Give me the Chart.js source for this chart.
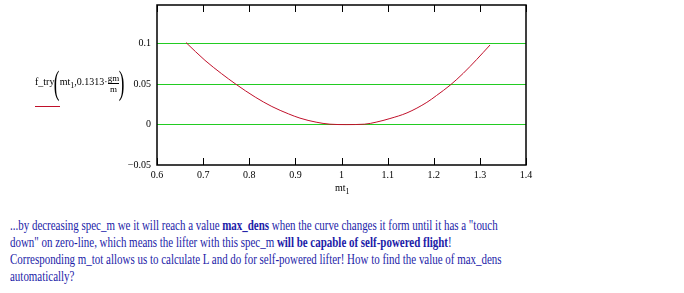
<!DOCTYPE html>
<html>
<head>
<meta charset="utf-8">
<script src="https://cdn.jsdelivr.net/npm/chart.js@4"></script>
<style>
  body { margin: 0; background: #fff; width: 684px; height: 293px; overflow: hidden; position: relative; font-family: "Liberation Serif", serif; }
  #wrap { position: absolute; left: 0; top: 0; width: 684px; height: 200px; }
  .lbl { position: absolute; font-size: 10px; color: #000; white-space: nowrap; }
  .frac { display: inline-block; vertical-align: middle; text-align: center; font-size: 9px; line-height: 10px; }
  .frac span { display: block; }
  .frac .num { border-bottom: 1px solid #000; }
  .paren { font-size: 34px; font-weight: 100; vertical-align: middle; transform: scaleX(0.5); display: inline-block; line-height: 34px; margin: 0 -3px; }
  #note { position: absolute; left: 10px; top: 217px; color: #1c1ca8; font-size: 15px; line-height: 17px; white-space: nowrap; transform: scaleX(0.73); transform-origin: 0 0; }
  #note b { color: #1c1ca8; }
</style>
</head>
<body>
<div id="wrap"><canvas id="c" width="684" height="200"></canvas></div>

<div class="lbl" style="left:35px; top:66px;">f_try<span class="paren">(</span>mt<sub style="font-size:8px">1</sub>,0.1313&middot;<span class="frac"><span class="num">gm</span><span>m</span></span><span class="paren">)</span></div>
<div style="position:absolute; left:35px; top:106px; width:25px; height:1px; background:#c0102a;"></div>

<div class="lbl" style="left:335px; top:182px;">mt<sub style="font-size:8px">1</sub></div>

<div id="note">...by decreasing spec_m we it will reach a value <b>max_dens</b> when the curve changes it form until it has a "touch<br>down" on zero-line, which means the lifter with this spec_m <b>will be capable of self-powered flight</b>!<br>Corresponding m_tot allows us to calculate L and do for self-powered lifter! How to find the value of max_dens<br>automatically?</div>

<script>
// curve
const mtValues = [0.663, 0.704, 0.740, 0.771, 0.813, 0.849, 0.885, 0.91, 0.945, 0.975, 1.01, 1.05, 1.075, 1.105, 1.142, 1.185, 1.206, 1.236, 1.264, 1.293, 1.322];
const fValues = [0.1015, 0.0795, 0.063, 0.05, 0.034, 0.0224, 0.0133, 0.008, 0.003, 0.0005, 0.0, 0.0005, 0.003, 0.0075, 0.0145, 0.0275, 0.036, 0.049, 0.0635, 0.0805, 0.0985];

const xTicks = [0.6, 0.7, 0.8, 0.9, 1, 1.1, 1.2, 1.3, 1.4];
const yTicks = [-0.05, 0, 0.05, 0.1];

const points = mtValues.map(function (m, i) { return {x: m, y: fValues[i]}; });

// frame + inward ticks like mathcad
const frame = {
    id: 'frame',
    afterDraw(chart) {
        const {ctx, chartArea: a} = chart;
        const xs = chart.scales.x;
        ctx.save();
        ctx.strokeStyle = '#000';
        ctx.lineWidth = 1.5;
        ctx.strokeRect(a.left, a.top, a.right - a.left, a.bottom - a.top);
        ctx.lineWidth = 1;
        xTicks.forEach(function (v) {
            const px = Math.round(xs.getPixelForValue(v)) + 0.5;
            ctx.beginPath();
            ctx.moveTo(px, a.bottom);
            ctx.lineTo(px, a.bottom - 7);
            ctx.moveTo(px, a.top);
            ctx.lineTo(px, a.top + 7);
            ctx.stroke();
        });
        ctx.restore();
    }
};

new Chart(document.getElementById('c'), {
    type: 'scatter',
    data: {
        datasets: [{
            data: points,
            showLine: true,
            borderColor: '#c0102a',
            borderWidth: 1,
            pointRadius: 0,
            cubicInterpolationMode: 'monotone',
            fill: false
        }]
    },
    options: {
        responsive: false,
        animation: false,
        layout: {padding: {left: 0, right: 158, top: 5, bottom: 0}},
        plugins: {legend: {display: false}, tooltip: {enabled: false}},
        scales: {
            x: {
                type: 'linear',
                min: 0.6,
                max: 1.4,
                afterBuildTicks: function (s) { s.ticks = xTicks.map(function (v) { return {value: v}; }); },
                afterFit: function (s) { s.height = 35; s.paddingLeft = 0; s.paddingRight = 0; },
                grid: {display: false, drawTicks: false},
                border: {display: false},
                ticks: {
                    color: '#000', padding: 4, font: {family: 'Liberation Serif', size: 10}, maxRotation: 0,
                    callback: function (v) { return String(Math.round(v * 10) / 10); }
                }
            },
            y: {
                min: -0.05,
                max: 0.148,
                afterBuildTicks: function (s) { s.ticks = yTicks.map(function (v) { return {value: v}; }); },
                afterFit: function (s) { s.width = 157; s.paddingTop = 0; s.paddingBottom = 0; },
                grid: {
                    drawTicks: false,
                    color: function (c) { return c.tick && c.tick.value >= 0 ? '#22cc22' : 'rgba(0,0,0,0)'; },
                    lineWidth: 1
                },
                border: {display: false},
                ticks: {
                    color: '#000', padding: 6, font: {family: 'Liberation Serif', size: 10},
                    callback: function (v) { return v < 0 ? '\u22120.05' : String(v); }
                }
            }
        }
    },
    plugins: [frame]
});
</script>
</body>
</html>
